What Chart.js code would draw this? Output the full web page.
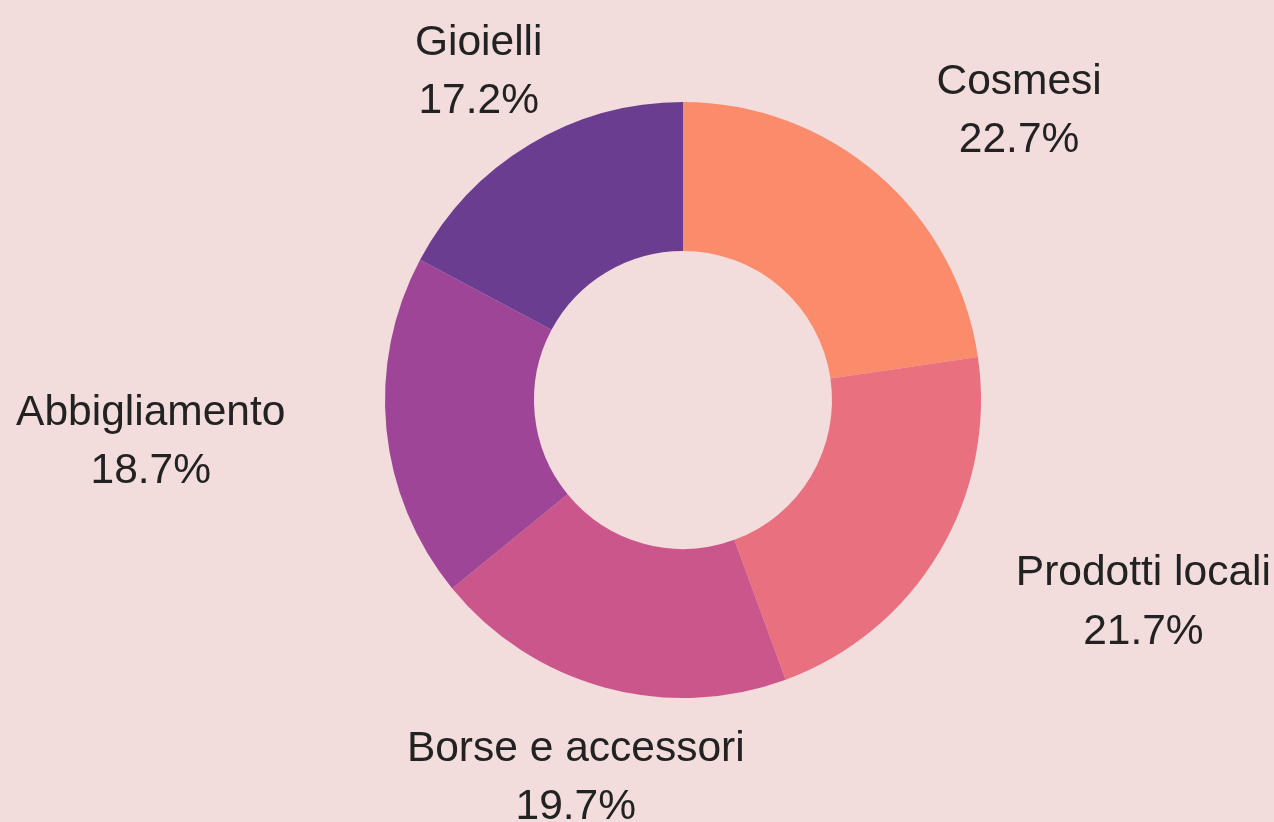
<!DOCTYPE html>
<html>
<head>
<meta charset="utf-8">
<script src="https://cdn.jsdelivr.net/npm/chart.js@4"></script>
<style>
  html, body { margin: 0; padding: 0; background: #f2dcdc; }
  #wrap { width: 1274px; height: 822px; }
</style>
</head>
<body>
<div id="wrap"><canvas id="donut"></canvas></div>
<script>
/* Ciambella: quote per categoria, etichette esterne con nome + percentuale */
const categories = ['Cosmesi', 'Prodotti locali', 'Borse e accessori', 'Abbigliamento', 'Gioielli'];
const shares = [22.7, 21.7, 19.7, 18.7, 17.2];
const sliceColors = ['#fb8c6b', '#e8707f', '#cb568b', '#9e4598', '#6a3d90'];

const fmtPct = v => v.toFixed(1) + '%';

// etichette fuori dall'anello: a sinistra/destra a seconda del lato, centrate in alto/basso
const outerLabels = {
  id: 'outerLabels',
  afterDraw(chart) {
    const ctx = chart.ctx;
    const meta = chart.getDatasetMeta(0);
    ctx.save();
    ctx.font = '42.5px "Liberation Sans", Arial, sans-serif';
    ctx.fillStyle = '#222222';
    ctx.textBaseline = 'middle';
    ctx.textAlign = 'center';
    meta.data.forEach((arc, i) => {
      const { x, y, startAngle, endAngle, outerRadius } = arc.getProps(['x','y','startAngle','endAngle','outerRadius'], true);
      const mid = (startAngle + endAngle) / 2;
      const r = outerRadius * 1.30;
      const ax = x + Math.cos(mid) * r;
      const ay = y + Math.sin(mid) * r + 4.5;
      const c = Math.cos(mid);
      const lines = [categories[i], fmtPct(shares[i])];
      const w = Math.max(...lines.map(t => ctx.measureText(t).width));
      let cx;
      if (c > 0.6) cx = ax + w / 2;
      else if (c < -0.6) cx = ax - w / 2 - 12;
      else cx = ax - 5;
      ctx.fillText(lines[0], cx, ay - 29.25);
      ctx.fillText(lines[1], cx, ay + 29.25);
    });
    ctx.restore();
  }
};

new Chart(document.getElementById('donut'), {
  type: 'doughnut',
  data: {
    labels: categories,
    datasets: [{
      data: shares,
      backgroundColor: sliceColors,
      borderWidth: 0,
      hoverOffset: 0
    }]
  },
  options: {
    responsive: true,
    maintainAspectRatio: false,
    animation: false,
    cutout: '50%',
    layout: { padding: { left: 385, right: 293, top: 102, bottom: 124 } },
    plugins: {
      legend: { display: false },
      tooltip: { enabled: false }
    }
  },
  plugins: [outerLabels]
});
</script>
</body>
</html>
